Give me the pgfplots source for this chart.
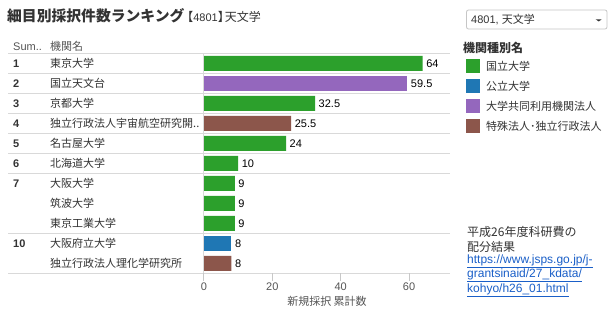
\documentclass[border=0pt]{standalone}
\usepackage{fontspec}
\setmainfont{Liberation Sans}
\newfontfamily\jp{Noto Sans CJK JP}
\usepackage{pgfplots}
\pgfplotsset{compat=1.18}
\definecolor{cgreen}{HTML}{2CA02C}
\definecolor{cblue}{HTML}{1F77B4}
\definecolor{cpurple}{HTML}{9467BD}
\definecolor{cbrown}{HTML}{8C564B}
\definecolor{lgray}{HTML}{D9D9D9}
\definecolor{kgray}{HTML}{C8C8C8}
\definecolor{tgray}{HTML}{333333}
\definecolor{hgray}{HTML}{555555}
\definecolor{link}{HTML}{1A5FC8}
\newcommand{\fs}[1]{\fontsize{#1bp}{#1bp}\selectfont}
\begin{document}
\begin{tikzpicture}[x=1bp,y=1bp]
\useasboundingbox (0,0) rectangle (616,312);
\fill[white] (0,0) rectangle (616,312);
% row separators
\foreach \yy in {258.7,238.7,218.7,198.7,178.7,158.7,138.7,78.7,38.7}
  \draw[lgray, line width=0.8bp] (8,\yy) -- (450,\yy);
\draw[lgray, line width=0.8bp] (203.8,258.7) -- (203.8,38.7);
% tick marks
\foreach \xx in {203.8,272.3,340.7,409.0}
  \draw[kgray, line width=1bp] (\xx,38.7) -- (\xx,31.5);
\begin{axis}[
  at={(204bp,38.7bp)}, anchor=south west,
  width=246bp, height=220bp, scale only axis,
  xmin=0, xmax=72, ymin=0.5, ymax=11.5, y dir=reverse,
  axis line style={draw=none},
  ytick=\empty, xtick={0,20,40,60},
  xtick pos=bottom, major tick length=0pt,
  ticklabel style={font=\fs{11}, text=hgray, yshift=-6bp},
  /pgf/number format/assume math mode=true,
  xbar, bar width=15bp, bar shift=0pt,
  nodes near coords,
  every node near coord/.append style={anchor=west, font=\fs{11}, text=black, inner sep=3.5bp},
  clip=false,
]
\addplot[fill=cgreen, draw=none] coordinates {(64,1) (32.5,3) (24,5) (10,6) (9,7) (9,8) (9,9)};
\addplot[fill=cpurple, draw=none] coordinates {(59.5,2)};
\addplot[fill=cbrown, draw=none] coordinates {(25.5,4) (8,11)};
\addplot[fill=cblue, draw=none] coordinates {(8,10)};
\end{axis}
% table text
\node[anchor=west, inner sep=0, text=hgray, font=\fs{11}] at (13,265.3) {Sum..};
\node[anchor=west, inner sep=0, text=hgray, font=\jp\fs{11}] at (50,265.3) {機関名};
\foreach \r/\lab in {1/1,2/2,3/3,4/4,5/5,6/6,7/7,10/10}
  \node[anchor=west, inner sep=0, text=tgray, font=\fs{11}\bfseries] at (13,{248.7-20*(\r-1)}) {\lab};
\foreach \r/\nm in {1/東京大学,2/国立天文台,3/京都大学,4/独立行政法人宇宙航空研究開..,5/名古屋大学,6/北海道大学,7/大阪大学,8/筑波大学,9/東京工業大学,10/大阪府立大学,11/独立行政法人理化学研究所}
  \node[anchor=west, inner sep=0, text=tgray, font=\jp\fs{11}] at (50,{248.7-20*(\r-1)}) {\nm};
% x label
\node[text=hgray, font=\jp\fs{11}, inner sep=0] at (327,10.3) {新規採択 累計数};
% title
\node[anchor=base west, inner sep=0, text=tgray] at (7,290.5) {\jp\fs{14.8}\bfseries 細目別採択件数ランキング\fs{12}\mdseries\hspace{-3bp}【{\rmfamily\fs{11}4801}】\hspace{-5bp}天文学};
% dropdown
\draw[gray!45, rounded corners=2bp, line width=0.8bp] (466.5,302) rectangle (607,283);
\node[anchor=west, inner sep=0, text=tgray, font=\fs{11}] at (471,292.5) {4801, {\jp 天文学}};
\fill[tgray] (595.7,292.7) -- (601.7,292.7) -- (598.7,290.5) -- cycle;
% legend
\node[anchor=west, inner sep=0, text=tgray, font=\jp\fs{12}\bfseries] at (463,264) {機関種別名};
\foreach \i/\c/\t in {0/cgreen/国立大学,1/cblue/公立大学,2/cpurple/大学共同利用機関法人,3/cbrown/特殊法人･独立行政法人}{
  \fill[\c] (466,{253-20*\i}) rectangle (480,{239-20*\i});
  \node[anchor=west, inner sep=0, text=tgray, font=\jp\fs{11}] at (486,{246-20*\i}) {\t};
}
% source
\node[anchor=west, inner sep=0, text=tgray, font=\jp\fs{12}] at (467,80) {平成26年度科研費の};
\node[anchor=west, inner sep=0, text=tgray, font=\jp\fs{12}] at (467,65.5) {配分結果};
\node[anchor=west, inner sep=0, text=link, font=\fs{12}] at (467,51) {\underline{https://www.jsps.go.jp/j-}};
\node[anchor=west, inner sep=0, text=link, font=\fs{12}] at (467,36.5) {\underline{grantsinaid/27\_kdata/}};
\node[anchor=west, inner sep=0, text=link, font=\fs{12}] at (467,22) {\underline{kohyo/h26\_01.html}};
\end{tikzpicture}
\end{document}
